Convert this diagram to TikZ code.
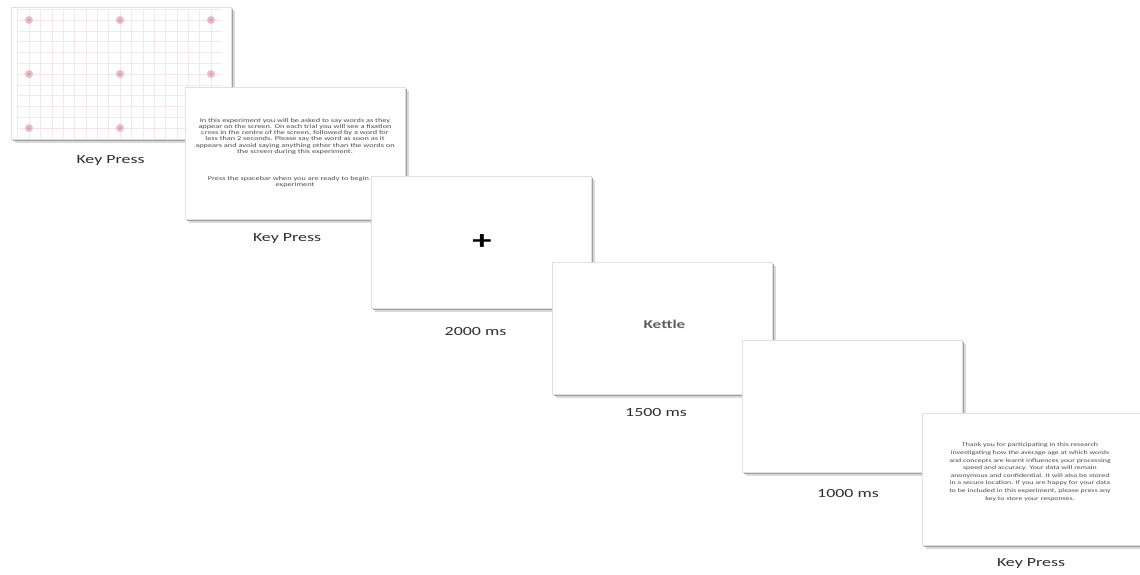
\documentclass[tikz,border=0pt]{standalone}
\usepackage{graphicx}
\usepackage{fontspec}
\setmainfont{Carlito}
\usetikzlibrary{shadows}
\definecolor{txt}{HTML}{2E2E2E}
\definecolor{bodyc}{HTML}{4A4A4A}
\definecolor{gridc}{HTML}{F5E6E9}
\definecolor{dotc}{HTML}{E2B3B9}
\definecolor{dotin}{HTML}{CD959C}
\newcommand{\sx}[1]{\scalebox{1.43}[1]{#1}}
\begin{document}
\begin{tikzpicture}[x=1pt,y=-1pt,
  panel/.style={draw=black!12, line width=0.4pt, fill=white, minimum width=220pt,
    minimum height=132pt, inner sep=0pt, anchor=north west,
    general shadow={fill=black!15, shadow xshift=3.8pt, shadow yshift=-3.8pt},
    general shadow={fill=black!38, shadow xshift=2.2pt, shadow yshift=-2.2pt}},
  lbl/.style={font=\fontsize{12.5}{15}\selectfont, text=txt, inner sep=0pt},
  body/.style={font=\fontsize{5.8}{6.2}\selectfont, text=bodyc, inner sep=0pt},
  gridline/.style={draw=gridc, line width=0.45pt},
]
\useasboundingbox (0,0) rectangle (1140,574);
\clip (0,0) rectangle (1140,574);

% panel 1: calibration grid
\node[panel] (p1) at (11,7) {};
\foreach \k in {-1,...,16} {\draw[gridline] ({29+\k*11.375},9.2) -- ({29+\k*11.375},138.8);}
\foreach \k in {-1,...,10} {\draw[gridline] (17.6,{20+\k*10.8}) -- (222.4,{20+\k*10.8});}
\foreach \i/\xx in {1/29,2/120,3/211} {
  \foreach \j/\yy in {1/20,2/74,3/128} {
    \ifnum\i\j=33\else
    \node[circle, fill=dotc, minimum size=8pt, inner sep=0pt, opacity=0.85] (d\i\j) at (\xx,\yy) {};
    \node[circle, fill=dotin, minimum size=2.5pt, inner sep=0pt] (c\i\j) at (\xx,\yy) {};
    \fi
  }
}
\node[lbl] (l1) at (110.5,160) {\sx{Key Press}};

% panel 2: instructions
\node[panel] (p2) at (185,87) {};
\node[body] (t2a) at (295,136.5) {\sx{\begin{tabular}{@{}c@{}}
In this experiment you will be asked to say words as they\\
appear on the screen. On each trial you will see a fixation\\
cross in the centre of the screen, followed by a word for\\
less than 2 seconds. Please say the word as soon as it\\
appears and avoid saying anything other than the words on\\
the screen during this experiment.
\end{tabular}}};
\node[body] (t2b) at (295,182.5) {\sx{\begin{tabular}{@{}c@{}}
Press the spacebar when you are ready to begin the\\
experiment
\end{tabular}}};
\node[lbl] (l2) at (287,238) {\sx{Key Press}};

% panel 3: fixation cross
\node[panel] (p3) at (371,176) {};
\node[font=\bfseries\fontsize{27}{27}\selectfont, inner sep=0pt] (fix) at (482,242) {\sx{+}};
\node[lbl] (l3) at (475.5,331) {\sx{2000 ms}};

% panel 4: word
\node[panel] (p4) at (552,262) {};
\node[font=\bfseries\fontsize{12}{14}\selectfont, text=black!62, inner sep=0pt] (w) at (664.5,324) {\sx{Kettle}};
\node[lbl] (l4) at (656,412) {\sx{1500 ms}};

% panel 5: blank
\node[panel] (p5) at (742,340) {};
\node[lbl] (l5) at (848,493) {\sx{1000 ms}};

% panel 6: debrief
\node[panel] (p6) at (922,413) {};
\node[body, font=\fontsize{5.5}{7.6}\selectfont] (t6) at (1030,472) {\sx{\begin{tabular}{@{}c@{}}
Thank you for participating in this research\\
investigating how the average age at which words\\
and concepts are learnt influences your processing\\
speed and accuracy. Your data will remain\\
anonymous and confidential. It will also be stored\\
in a secure location. If you are happy for your data\\
to be included in this experiment, please press any\\
key to store your responses.
\end{tabular}}};
\node[lbl] (l6) at (1031,563) {\sx{Key Press}};
\end{tikzpicture}
\end{document}
